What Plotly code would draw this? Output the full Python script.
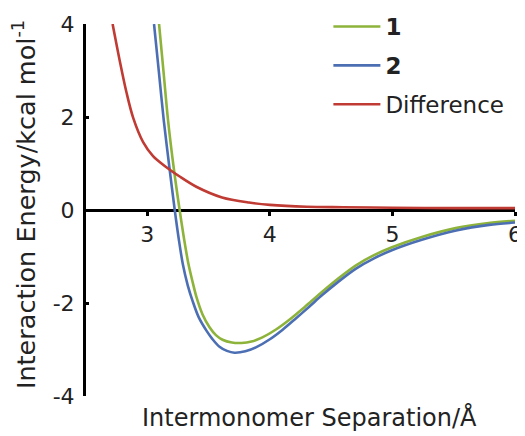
import plotly.graph_objects as go

# Series 1 (green)
x1 = [3.096, 3.135, 3.169, 3.218, 3.264, 3.30, 3.335, 3.37, 3.402, 3.45, 3.508, 3.56, 3.614,
      3.69, 3.768, 3.85, 3.939, 4.05, 4.159, 4.3, 4.427, 4.56, 4.703, 4.85, 4.996, 5.24,
      5.516, 5.785, 6.0]
y1 = [4.0, 2.9, 1.94, 0.86, 0.0, -0.62, -1.15, -1.55, -1.88, -2.24, -2.52, -2.69, -2.79,
      -2.85, -2.86, -2.83, -2.74, -2.57, -2.36, -2.05, -1.76, -1.47, -1.19, -0.97, -0.80,
      -0.58, -0.39, -0.28, -0.23]

# Series 2 (blue)
x2 = [3.055, 3.095, 3.134, 3.183, 3.224, 3.26, 3.291, 3.33, 3.37, 3.42, 3.484, 3.53, 3.589,
      3.65, 3.711, 3.8, 3.89, 4.0, 4.102, 4.2, 4.321, 4.427, 4.56, 4.703, 4.85, 5.0, 5.24,
      5.52, 5.79, 6.0]
y2 = [4.0, 2.96, 1.94, 0.86, 0.0, -0.68, -1.18, -1.62, -1.96, -2.31, -2.6, -2.77, -2.94,
      -3.03, -3.07, -3.04, -2.95, -2.78, -2.58, -2.36, -2.08, -1.83, -1.54, -1.26, -1.04,
      -0.86, -0.64, -0.44, -0.32, -0.27]

# Difference (red)
x3 = [2.717, 2.776, 2.831, 2.885, 2.966, 3.047, 3.156, 3.264, 3.40, 3.61, 3.83, 4.0, 4.3,
      4.6, 5.0, 5.5, 6.0]
y3 = [4.0, 3.2, 2.52, 1.98, 1.46, 1.16, 0.92, 0.72, 0.5, 0.27, 0.16, 0.11, 0.07,
      0.06, 0.05, 0.04, 0.04]

names = ["<b>1</b>", "<b>2</b>", "Difference"]
x_ticks = [3, 4, 5, 6]
y_ticks = [-4, -2, 0, 2, 4]

FONT = "DejaVu Sans"
TXT = "#222"
colors = ["#8db33b", "#4c6fb4", "#bf3b33"]

fig = go.Figure()
for i, (xs, ys) in enumerate([(x1, y1), (x2, y2), (x3, y3)]):
    fig.add_trace(go.Scatter(
        x=xs, y=ys, mode="lines", name=names[i], legendgroup=f"g{i}",
        line=dict(color=colors[i], width=2.6, shape="spline", smoothing=0.9),
    ))

# page body has an 8px default margin, so the figure is 8px smaller than the window
fig.update_layout(
    width=517, height=428,
    margin=dict(l=78, r=10, t=16, b=40, autoexpand=False),
    paper_bgcolor="white", plot_bgcolor="white",
    font=dict(family=FONT, size=21, color=TXT),
    showlegend=True,
    legend=dict(x=0.565, y=1.051, xanchor="left", yanchor="top", itemwidth=47,
                bgcolor="rgba(0,0,0,0)", font=dict(size=23, family=FONT, color=TXT),
                tracegroupgap=6),
    xaxis=dict(range=[2.5, 6], anchor="free", position=0.5,
               showline=True, linecolor="black", linewidth=3,
               ticks="outside", ticklen=4, tickwidth=3, tickcolor="black",
               tickvals=x_ticks, ticktext=[str(v) for v in x_ticks],
               showgrid=False, zeroline=False, layer="below traces",
               tickfont=dict(size=22, family=FONT, color=TXT)),
    yaxis=dict(range=[-4, 4], anchor="x", showline=True, linecolor="black", linewidth=3,
               ticks="inside", ticklen=3, tickwidth=3, tickcolor="black",
               tickvals=y_ticks, ticktext=[str(v) for v in y_ticks],
               ticklabelstandoff=4,
               showgrid=False, zeroline=False, layer="below traces",
               tickfont=dict(size=22, family=FONT, color=TXT)),
    annotations=[
        dict(text="Interaction Energy/kcal mol<sup>-1</sup>", xref="paper", yref="paper",
             x=-0.143, y=0.515, xanchor="center", yanchor="middle", textangle=-90,
             showarrow=False, font=dict(size=25.5, family=FONT, color=TXT)),
        dict(text="Intermonomer Separation/Å", xref="paper", yref="paper",
             x=0.52, y=-0.059, xanchor="center", yanchor="middle",
             showarrow=False, font=dict(size=24, family=FONT, color=TXT)),
    ],
)

fig.write_html("out.html")
